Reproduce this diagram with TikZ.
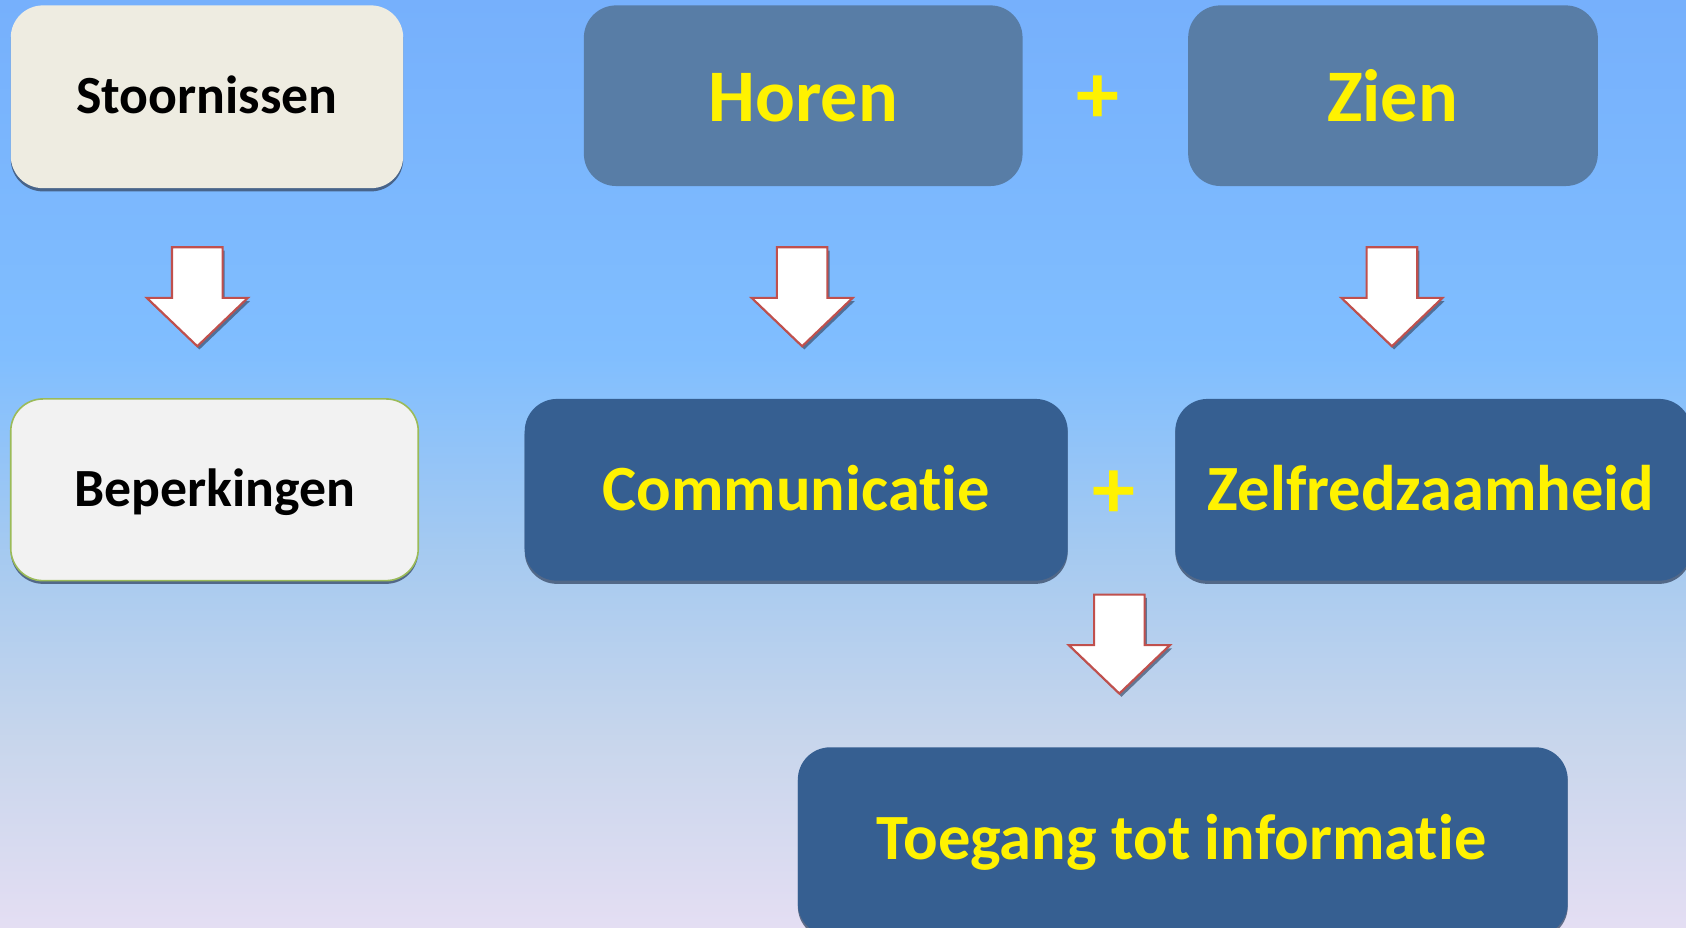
\documentclass[tikz,border=0pt]{standalone}
\usepackage{fontspec}
\setmainfont[Ligatures={NoCommon}]{Carlito}
\usetikzlibrary{shadows}
\definecolor{bgA}{RGB}{118,176,252}
\definecolor{bgB}{RGB}{128,190,255}
\definecolor{bgC}{RGB}{166,202,240}
\definecolor{bgE}{RGB}{200,214,236}
\definecolor{bgD}{RGB}{228,222,243}
\definecolor{stoorfill}{RGB}{238,236,225}
\definecolor{beperkfill}{RGB}{242,242,242}
\definecolor{beperkline}{RGB}{155,187,89}
\definecolor{lightblue}{RGB}{88,125,166}
\definecolor{darkblue}{RGB}{54,95,145}
\definecolor{arrowred}{RGB}{192,80,77}
\definecolor{shadowc}{RGB}{60,80,110}
\pgfdeclareverticalshading{bgshade}{100bp}{color(0bp)=(bgD); color(25bp)=(bgD); color(35bp)=(bgE); color(45bp)=(bgC); color(56bp)=(bgB); color(75bp)=(bgA); color(100bp)=(bgA)}
\newcommand\blockarrow[3]{% name, x, top y
  \coordinate (#1) at (#2,#3);
  \path[arrowshape] (#2-23.5,#3) -- (#2+23.5,#3) -- (#2+23.5,#3+47) -- (#2+47,#3+47)
    -- (#2,#3+92) -- (#2-47,#3+47) -- (#2-23.5,#3+47) -- cycle;
}
\begin{document}
\begin{tikzpicture}[x=1pt,y=-1pt,
  box/.style={rectangle, rounded corners=30pt, inner sep=0pt, text depth=0pt},
  boxshadow/.style={drop shadow={shadow xshift=0pt, shadow yshift=-3pt, fill=shadowc, opacity=0.8}},
  lightbox/.style={box, text=black, font=\bfseries\fontsize{50}{54}\selectfont, text height=31.6pt, boxshadow},
  bluebox/.style={box, fill=lightblue, text=yellow, font=\bfseries\fontsize{69}{72}\selectfont, text height=43.6pt},
  darkbox/.style={box, fill=darkblue, boxshadow},
  yellowtext/.style={text=yellow, font=\bfseries\fontsize{60}{64}\selectfont, text height=37.9pt, text depth=0pt, inner sep=0pt},
  plus/.style={text=yellow, font=\bfseries\fontsize{80}{84}\selectfont, inner sep=0pt},
  arrowshape/.style={fill=white, draw=arrowred, line width=2pt, line join=miter,
     drop shadow={shadow xshift=2pt, shadow yshift=-3pt, fill=shadowc, opacity=0.7}}
]
\useasboundingbox (0,0) rectangle (1568,863);
\shade[shading=bgshade] (0,0) rectangle (1568,863);

\node[lightbox, fill=stoorfill, minimum width=365pt, minimum height=170pt] (stoor) at (192.5,90) {Stoornissen};
\node[lightbox, fill=beperkfill, draw=beperkline, line width=1.5pt, minimum width=379pt, minimum height=169pt] (beperk) at (199.5,455.5) {Beperkingen};

\node[bluebox, minimum width=408pt, minimum height=168pt] (horen) at (747,89) {};
\node[bluebox, fill=none, inner sep=0pt] (horentext) at (747,91.5) {Horen};
\node[bluebox, minimum width=381pt, minimum height=168pt] (zien) at (1295.5,89) {};
\node[bluebox, fill=none, inner sep=0pt] (zientext) at (1295,91.5) {Zien};
\node[plus] (plus1) at (1021,93) {+};

\node[darkbox, minimum width=505pt, minimum height=169pt] (comm) at (740.5,455.5) {};
\node[yellowtext] (commtext) at (740.5,456) {Communicatie};
\node[darkbox, minimum width=480pt, minimum height=169pt] (zelf) at (1333,455.5) {};
\node[yellowtext] (zelftext) at (1331,455.5) {Zelfredzaamheid};
\node[plus] (plus2) at (1036,460) {+};

\node[darkbox, minimum width=716pt, minimum height=175pt] (toeg) at (1100,782.5) {};
\node[yellowtext] (toegtext) at (1099,780) {Toegang tot informatie};

\blockarrow{a1}{183.5}{230}
\blockarrow{a2}{746}{230}
\blockarrow{a3}{1294.5}{230}
\blockarrow{a4}{1041}{553}
\end{tikzpicture}
\end{document}
